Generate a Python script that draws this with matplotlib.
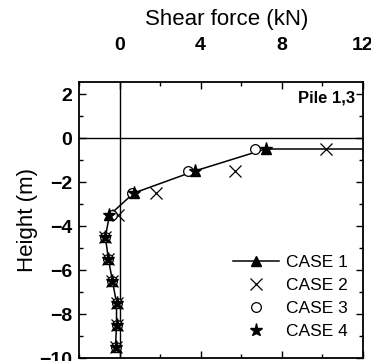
import matplotlib
matplotlib.use("Agg")
from matplotlib import pyplot as plt
from matplotlib.ticker import MultipleLocator

plt.rcParams['font.family'] = ['Liberation Sans', 'DejaVu Sans']

height = [-0.5, -1.5, -2.5, -3.5, -4.5, -5.5, -6.5, -7.5, -8.5, -9.5]
case1 = [7.2, 3.7, 0.7, -0.5, -0.7, -0.55, -0.35, -0.15, -0.15, -0.2]
case2 = [10.2, 5.7, 1.8, -0.1, -0.7, -0.55, -0.35, -0.15, -0.15, -0.2]
case3 = [6.7, 3.4, 0.6, -0.35, -0.7, -0.55, -0.35, -0.15, -0.15, -0.2]
case4 = [7.2, 3.7, 0.7, -0.5, -0.7, -0.55, -0.35, -0.15, -0.15, -0.2]
# top segment of case 1 runs on to the frame
top_x = [12, 7.2]
top_y = [-0.5, -0.5]

fig = plt.figure(figsize=(3.71, 3.61), dpi=100)
ax = fig.add_axes([0.213, 0.008, 0.765, 0.765])

ax.axhline(0, color='black', lw=1.0)
ax.axvline(0, color='black', lw=1.0)

ax.plot(top_x, top_y, color='black', lw=1.1)
ax.plot(case1, height, color='black', lw=1.1, marker='^', ms=7, label='CASE 1')
ax.plot(case2, height, ls='none', marker='x', color='black', ms=8, mew=0.9, label='CASE 2')
ax.plot(case3, height, ls='none', marker='o', mfc='white', mec='black', ms=7, mew=0.9, label='CASE 3')
ax.plot(case4, height, ls='none', marker='*', color='black', ms=9.5, label='CASE 4')

ax.set_xlim(-2, 12)
ax.set_ylim(-10, 2.55)
ax.xaxis.set_major_locator(MultipleLocator(4))
ax.xaxis.set_minor_locator(MultipleLocator(2))
ax.yaxis.set_major_locator(MultipleLocator(2))
ax.yaxis.set_minor_locator(MultipleLocator(1))
ax.xaxis.tick_top()
ax.xaxis.set_label_position('top')
ax.tick_params(which='both', direction='in', top=True, bottom=True, left=True, right=True,
               labelsize=14, width=1.0)
ax.tick_params(which='major', length=5)
ax.tick_params(which='minor', length=3)
ax.tick_params(axis='x', which='major', pad=20)
ax.tick_params(axis='y', which='major', pad=5)
for lab in ax.get_xticklabels() + ax.get_yticklabels():
    lab.set_fontweight('bold')
for s in ax.spines.values():
    s.set_linewidth(1.3)

ax.set_xlabel('Shear force (kN)', fontsize=16, labelpad=9)
ax.xaxis.label.set_x(0.52)
ax.set_ylabel('Height (m)', fontsize=16, labelpad=1)
ax.text(11.6, 1.8, 'Pile 1,3', fontsize=12, fontweight='bold', ha='right', va='center')

ax.legend(loc='lower right', bbox_to_anchor=(0.97, 0.045), frameon=False, fontsize=12.5,
          handlelength=2.6, handletextpad=0.4, labelspacing=0.45, borderaxespad=0)

fig.savefig('out.png', dpi=100)
